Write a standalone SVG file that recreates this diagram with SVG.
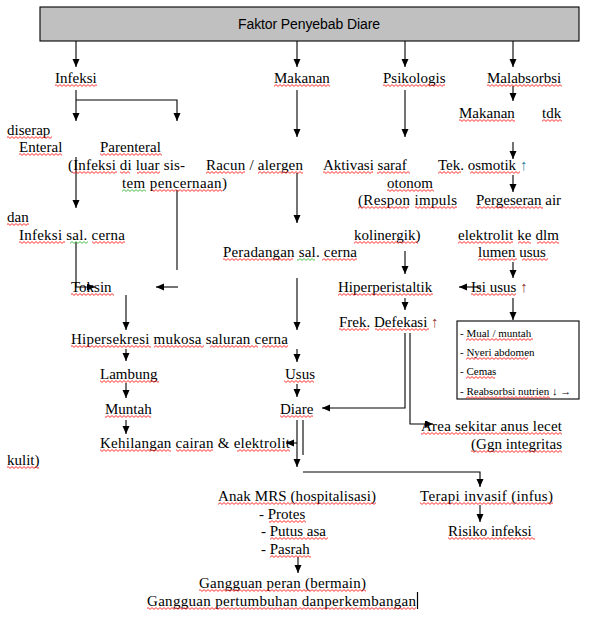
<svg xmlns="http://www.w3.org/2000/svg" width="591" height="618" viewBox="0 0 591 618">
<style>
text{font-family:"Liberation Serif","Times New Roman",serif;font-size:15px;fill:#000}
text.h{font-family:"Liberation Sans",Arial,sans-serif;font-size:14px}
text.s{font-size:11px}
.c path{fill:none;stroke:#000;stroke-width:1.1}
.up1{fill:#31849b}
.up2{fill:#943634}
</style>
<defs>
<marker id="a" markerUnits="userSpaceOnUse" markerWidth="8" markerHeight="8" refX="8" refY="3.5" orient="auto"><path d="M0,0 L8,3.5 L0,7 z" fill="#000"/></marker>
<pattern id="sq" patternUnits="userSpaceOnUse" width="4" height="3"><path d="M0,0.6 L2,2.4 L4,0.6" fill="none" stroke="#f00" stroke-width="0.8"/></pattern>
<pattern id="sg" patternUnits="userSpaceOnUse" width="4" height="3"><path d="M0,0.6 L2,2.4 L4,0.6" fill="none" stroke="#2a2" stroke-width="0.8"/></pattern>
</defs>
<rect width="591" height="618" fill="#fff"/>

<g id="header"><rect x="40" y="7" width="539" height="34" fill="#c0c0c0" stroke="#000" stroke-width="1.1"/><text class="h" x="238" y="29" textLength="142">Faktor Penyebab Diare</text></g>

<g class="c" id="connectors">
<path d="M76 41V67" marker-end="url(#a)"/>
<path d="M297 41V67" marker-end="url(#a)"/>
<path d="M405 41V67" marker-end="url(#a)"/>
<path d="M513 41V67" marker-end="url(#a)"/>
<path d="M76 90V121" marker-end="url(#a)"/>
<path d="M76 100H177V121" marker-end="url(#a)"/>
<path d="M297 90V137" marker-end="url(#a)"/>
<path d="M405 90V137" marker-end="url(#a)"/>
<path d="M513 86V101" marker-end="url(#a)"/>
<path d="M513 142V159" marker-end="url(#a)"/>
<path d="M513 175V192" marker-end="url(#a)"/>
<path d="M513 262V278" marker-end="url(#a)"/>
<path d="M513 298V320" marker-end="url(#a)"/>
<path d="M481 287H459" marker-end="url(#a)"/>
<path d="M76 157V208" marker-end="url(#a)"/>
<path d="M177 190V270"/>
<path d="M178 287H156" marker-end="url(#a)"/>
<path d="M76 242V287H95" marker-end="url(#a)"/>
<path d="M126 295V330" marker-end="url(#a)"/>
<path d="M297 173V223" marker-end="url(#a)"/>
<path d="M297 278V330" marker-end="url(#a)"/>
<path d="M405 251V274" marker-end="url(#a)"/>
<path d="M405 298V310" marker-end="url(#a)"/>
<path d="M405 333V408H322" marker-end="url(#a)"/>
<path d="M410 333V424H433" marker-end="url(#a)"/>
<path d="M126 349V361" marker-end="url(#a)"/>
<path d="M297 349V362" marker-end="url(#a)"/>
<path d="M126 383V398" marker-end="url(#a)"/>
<path d="M297 384V397" marker-end="url(#a)"/>
<path d="M126 420V434" marker-end="url(#a)"/>
<path d="M297 420V467" marker-end="url(#a)"/>
<path d="M297 443H286" marker-end="url(#a)"/>
<path d="M303 420V455"/>
<path d="M303 472H480V487" marker-end="url(#a)"/>
<path d="M480 505V522" marker-end="url(#a)"/>
<path d="M298 557V573" marker-end="url(#a)"/>
</g>

<g id="n-infeksi"><text x="55" y="83">Infeksi</text></g>
<g id="n-makanan"><text x="274" y="83">Makanan</text></g>
<g id="n-psikologis"><text x="383" y="83">Psikologis</text></g>
<g id="n-malabsorbsi"><text x="487" y="83">Malabsorbsi</text></g>
<g id="n-diserap"><text x="7" y="135">diserap</text></g>
<g id="n-enteral"><text x="19" y="152">Enteral</text></g>
<g id="n-parenteral"><text x="100" y="152">Parenteral</text><text x="68" y="170" textLength="117">(Infeksi di luar sis-</text><text x="122" y="188" textLength="105">tem pencernaan)</text></g>
<g id="n-racun"><text x="206" y="170" textLength="97">Racun / alergen</text></g>
<g id="n-aktivasi"><text x="323" y="170">Aktivasi saraf</text><text x="387" y="188">otonom</text><text x="358" y="205" textLength="99">(Respon impuls</text><text x="354" y="240">kolinergik)</text></g>
<g id="n-makanan-tdk"><text x="459" y="118">Makanan</text><text x="542" y="118">tdk</text></g>
<g id="n-tek"><text x="438" y="170">Tek. osmotik <tspan class="up1">↑</tspan></text></g>
<g id="n-pergeseran"><text x="476" y="205">Pergeseran air</text><text x="458" y="240" textLength="101">elektrolit ke dlm</text><text x="478" y="257">lumen usus</text></g>
<g id="n-dan"><text x="7" y="222">dan</text></g>
<g id="n-infeksi-sal"><text x="19" y="240" textLength="106">Infeksi sal. cerna</text></g>
<g id="n-peradangan"><text x="223" y="257" textLength="134">Peradangan sal. cerna</text></g>
<g id="n-toksin"><text x="71" y="292">Toksin</text></g>
<g id="n-hiperperistaltik"><text x="338" y="292">Hiperperistaltik</text></g>
<g id="n-isi"><text x="471" y="292">Isi usus <tspan class="up2">↑</tspan></text></g>
<g id="n-frek"><text x="339" y="327">Frek. Defekasi <tspan class="up2">↑</tspan></text></g>
<g id="n-hipersekresi"><text x="71" y="344" textLength="217">Hipersekresi mukosa saluran cerna</text></g>
<g id="n-lambung"><text x="100" y="379">Lambung</text></g>
<g id="n-usus"><text x="285" y="379">Usus</text></g>
<g id="n-muntah"><text x="105" y="414">Muntah</text></g>
<g id="n-diare"><text x="280" y="414">Diare</text></g>
<g id="n-kehilangan"><text x="100" y="448" textLength="190">Kehilangan cairan &amp; elektrolit</text></g>
<g id="n-area"><text x="421" y="431" textLength="141">Area sekitar anus lecet</text><text x="471" y="449" textLength="91">(Ggn integritas</text><text x="7" y="465">kulit)</text></g>
<g id="n-box"><rect x="457" y="321" width="122" height="78" fill="#fff" stroke="#000" stroke-width="1.1"/>
<text class="s" x="460" y="337">- Mual / muntah</text>
<text class="s" x="460" y="356">- Nyeri abdomen</text>
<text class="s" x="460" y="375">- Cemas</text>
<text class="s" x="460" y="395">- Reabsorbsi nutrien ↓ →</text></g>
<g id="n-anak"><text x="218" y="501" textLength="158">Anak MRS (hospitalisasi)</text><text x="259" y="519">- Protes</text><text x="261" y="536">- Putus asa</text><text x="261" y="554">- Pasrah</text></g>
<g id="n-terapi"><text x="420" y="501" textLength="133">Terapi invasif (infus)</text></g>
<g id="n-risiko"><text x="448" y="536">Risiko infeksi</text></g>
<g id="n-gangguan"><text x="199" y="588" textLength="167">Gangguan peran (bermain)</text><text x="147" y="606" textLength="269">Gangguan pertumbuhan danperkembangan</text></g>
<path d="M417.5 592V609" stroke="#000" stroke-width="1.2"/>

<g id="squiggles" fill="url(#sq)">
<rect transform="translate(0,84)" x="55" width="42" height="3"/>
<rect transform="translate(0,84)" x="274" width="56" height="3"/>
<rect transform="translate(0,84)" x="383" width="62" height="3"/>
<rect transform="translate(0,84)" x="487" width="75" height="3"/>
<rect transform="translate(0,136)" x="7" width="45" height="3"/>
<rect transform="translate(0,153)" x="19" width="43" height="3"/>
<rect transform="translate(0,153)" x="100" width="62" height="3"/>
<rect transform="translate(0,171)" x="72" width="45" height="3"/>
<rect transform="translate(0,171)" x="120" width="10" height="3"/>
<rect transform="translate(0,171)" x="137" width="23" height="3"/>
<rect transform="translate(0,189)" x="122" width="24" height="3" fill="url(#sg)"/>
<rect transform="translate(0,189)" x="152" width="70" height="3"/>
<rect transform="translate(0,171)" x="206" width="39" height="3"/>
<rect transform="translate(0,171)" x="258" width="45" height="3"/>
<rect transform="translate(0,171)" x="323" width="50" height="3"/>
<rect transform="translate(0,171)" x="377" width="33" height="3"/>
<rect transform="translate(0,189)" x="387" width="47" height="3"/>
<rect transform="translate(0,206)" x="358" width="51" height="3"/>
<rect transform="translate(0,206)" x="415" width="42" height="3"/>
<rect transform="translate(0,241)" x="354" width="64" height="3"/>
<rect transform="translate(0,119)" x="459" width="56" height="3"/>
<rect transform="translate(0,119)" x="542" width="20" height="3"/>
<rect transform="translate(0,171)" x="438" width="23" height="3"/>
<rect transform="translate(0,171)" x="470" width="50" height="3"/>
<rect transform="translate(0,206)" x="476" width="67" height="3"/>
<rect transform="translate(0,241)" x="458" width="55" height="3"/>
<rect transform="translate(0,241)" x="518" width="13" height="3"/>
<rect transform="translate(0,241)" x="537" width="22" height="3"/>
<rect transform="translate(0,258)" x="478" width="39" height="3"/>
<rect transform="translate(0,258)" x="522" width="26" height="3"/>
<rect transform="translate(0,223)" x="7" width="22" height="3"/>
<rect transform="translate(0,241)" x="19" width="46" height="3"/>
<rect transform="translate(0,241)" x="70" width="18" height="3" fill="url(#sg)"/>
<rect transform="translate(0,241)" x="92" width="33" height="3"/>
<rect transform="translate(0,258)" x="223" width="70" height="3"/>
<rect transform="translate(0,258)" x="297" width="18" height="3" fill="url(#sg)"/>
<rect transform="translate(0,258)" x="322" width="35" height="3"/>
<rect transform="translate(0,293)" x="71" width="43" height="3"/>
<rect transform="translate(0,293)" x="338" width="95" height="3"/>
<rect transform="translate(0,293)" x="471" width="45" height="3"/>
<rect transform="translate(0,328)" x="339" width="30" height="3"/>
<rect transform="translate(0,328)" x="375" width="54" height="3"/>
<rect transform="translate(0,345)" x="71" width="80" height="3"/>
<rect transform="translate(0,345)" x="154" width="50" height="3"/>
<rect transform="translate(0,345)" x="210" width="48" height="3"/>
<rect transform="translate(0,345)" x="262" width="26" height="3"/>
<rect transform="translate(0,380)" x="100" width="59" height="3"/>
<rect transform="translate(0,380)" x="284" width="30" height="3"/>
<rect transform="translate(0,415)" x="105" width="46" height="3"/>
<rect transform="translate(0,415)" x="280" width="33" height="3"/>
<rect transform="translate(0,449)" x="100" width="71" height="3"/>
<rect transform="translate(0,449)" x="176" width="37" height="3"/>
<rect transform="translate(0,449)" x="237" width="53" height="3"/>
<rect transform="translate(0,432)" x="421" width="141" height="3"/>
<rect transform="translate(0,450)" x="471" width="91" height="3"/>
<rect transform="translate(0,466)" x="7" width="32" height="3"/>
<rect transform="translate(0,502)" x="218" width="158" height="3"/>
<rect transform="translate(0,520)" x="269" width="37" height="3"/>
<rect transform="translate(0,537)" x="270" width="58" height="3"/>
<rect transform="translate(0,555)" x="270" width="41" height="3"/>
<rect transform="translate(0,502)" x="420" width="133" height="3"/>
<rect transform="translate(0,537)" x="448" width="87" height="3"/>
<rect transform="translate(0,589)" x="199" width="167" height="3"/>
<rect transform="translate(0,607)" x="147" width="269" height="3"/>
<rect transform="translate(0,338)" x="466" width="67" height="3"/>
<rect transform="translate(0,357)" x="466" width="62" height="3"/>
<rect transform="translate(0,376)" x="466" width="29" height="3"/>
<rect transform="translate(0,396)" x="466" width="84" height="3"/>
</g>
</svg>
